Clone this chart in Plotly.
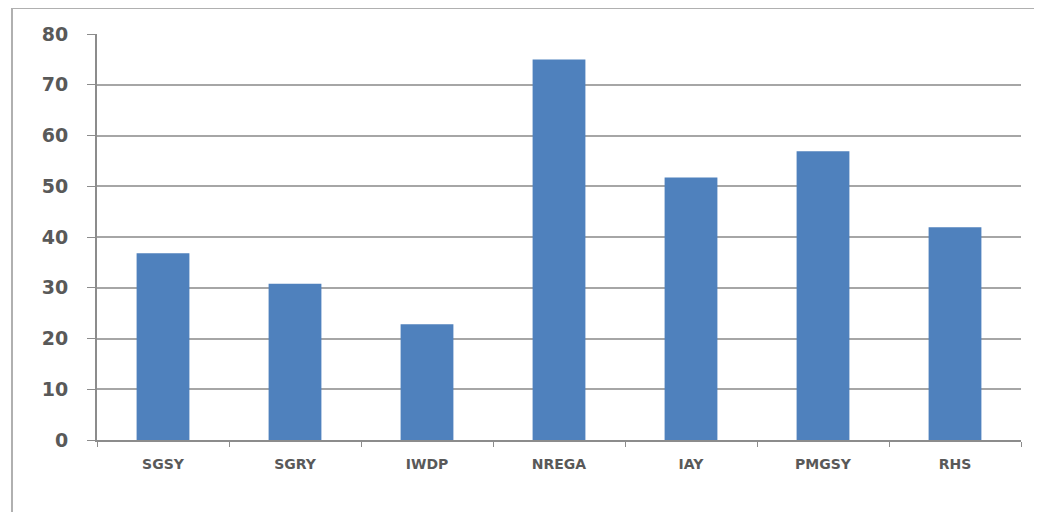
import plotly.graph_objects as go

schemes = ["SGSY", "SGRY", "IWDP", "NREGA", "IAY", "PMGSY", "RHS"]
values = [36.8, 30.8, 22.8, 75.0, 51.7, 56.9, 41.9]
y_ticks = [0, 10, 20, 30, 40, 50, 60, 70, 80]

fig = go.Figure(
    go.Bar(x=schemes, y=values, marker=dict(color="#4F81BD", line=dict(width=0)))
)

frame = dict(color="#b0b0b0", width=2)

# page body adds an 8px offset, so margins are trimmed by that amount
fig.update_layout(
    width=1042,
    height=512,
    margin=dict(l=89, r=29, t=26, b=80),
    paper_bgcolor="white",
    plot_bgcolor="white",
    bargap=0.6,
    showlegend=False,
    font=dict(family="DejaVu Sans, sans-serif", color="#595959"),
    shapes=[
        # outer chart frame: left and top edges only are visible
        dict(type="line", xref="paper", yref="paper",
             x0=-0.092, x1=-0.092, y0=-0.3, y1=1.064, line=frame, layer="below"),
        dict(type="line", xref="paper", yref="paper",
             x0=-0.092, x1=1.3, y0=1.064, y1=1.064, line=frame, layer="below"),
    ],
)

fig.update_xaxes(
    type="category",
    showgrid=False,
    showline=True,
    linecolor="#8c8c8c",
    linewidth=2,
    ticks="outside",
    tickson="boundaries",
    ticklen=5,
    tickcolor="#8c8c8c",
    ticklabelstandoff=10,
    tickfont=dict(size=14, color="#595959", family="DejaVu Sans, sans-serif", weight="bold"),
)

fig.update_yaxes(
    range=[0, 80],
    tickvals=y_ticks,
    showgrid=True,
    gridcolor="#a6a6a6",
    gridwidth=2,
    showline=True,
    linecolor="#8c8c8c",
    linewidth=2,
    ticks="outside",
    ticklen=8,
    tickcolor="#8c8c8c",
    ticklabelstandoff=15,
    zeroline=False,
    tickfont=dict(size=19, color="#595959", family="DejaVu Sans, sans-serif", weight="bold"),
)

fig.write_html("out.html")
